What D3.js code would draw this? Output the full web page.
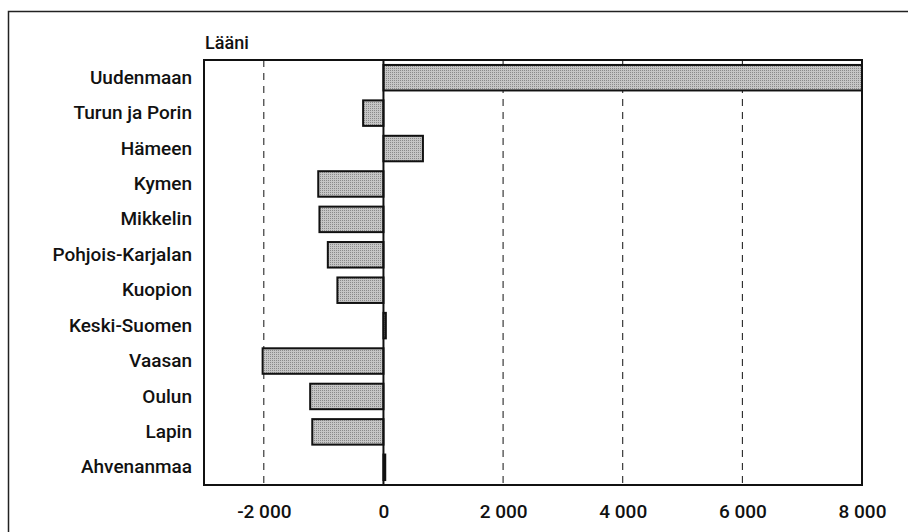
<!DOCTYPE html>
<html>
<head>
<meta charset="utf-8">
<script src="https://cdn.jsdelivr.net/npm/d3@7"></script>
<style>
  body { margin: 0; background: #fff; }
  text { font-family: Roboto, "Liberation Sans", sans-serif; font-weight: 500; fill: #111; }
</style>
</head>
<body>
<div id="chart"></div>
<script>
var provinces = ["Uudenmaan", "Turun ja Porin", "Hämeen", "Kymen", "Mikkelin",
  "Pohjois-Karjalan", "Kuopion", "Keski-Suomen", "Vaasan", "Oulun", "Lapin", "Ahvenanmaa"];
var values = [8000, -340, 660, -1090, -1070, -930, -770, 40, -2020, -1225, -1190, 30];
var ticks = [-2000, 0, 2000, 4000, 6000, 8000];
var gridTicks = [-2000, 2000, 4000, 6000];

var width = 908, height = 532;
var margin = { top: 60, right: 46, bottom: 47, left: 204 };

var svg = d3.select("#chart").append("svg")
    .attr("width", width)
    .attr("height", height);

// stippled grey fill like the printed original
var pat = svg.append("defs").append("pattern")
    .attr("id", "dots")
    .attr("width", 2).attr("height", 2)
    .attr("patternUnits", "userSpaceOnUse");
pat.append("rect").attr("width", 2).attr("height", 2).attr("fill", "#c6c6c6");
pat.append("rect").attr("width", 1).attr("height", 1).attr("fill", "#8a8a8a");

// outer frame (only top and left are inside the picture)
svg.append("path")
    .attr("d", "M8.5," + height + "V11.5H" + width)
    .attr("fill", "none")
    .attr("stroke", "#222")
    .attr("stroke-width", 1.5);

var x = d3.scaleLinear()
    .domain([-3000, 8000])
    .range([margin.left, width - margin.right]);

var y = d3.scaleBand()
    .domain(provinces)
    .range([margin.top, height - margin.bottom])
    .paddingInner(0.28)
    .paddingOuter(0.14);

var plotBottom = height - margin.bottom;

// dashed grid
svg.append("g").selectAll("line")
  .data(gridTicks)
  .enter().append("line")
    .attr("x1", function(d) { return x(d); })
    .attr("x2", function(d) { return x(d); })
    .attr("y1", margin.top)
    .attr("y2", plotBottom)
    .attr("stroke", "#111")
    .attr("stroke-width", 1)
    .attr("stroke-dasharray", "7,6");

// bars
svg.append("g").selectAll("rect")
  .data(values)
  .enter().append("rect")
    .attr("x", function(d) { return x(Math.min(0, d)); })
    .attr("y", function(d, i) { return y(provinces[i]); })
    .attr("width", function(d) { return Math.abs(x(d) - x(0)); })
    .attr("height", y.bandwidth())
    .attr("fill", "url(#dots)")
    .attr("stroke", "#111")
    .attr("stroke-width", 2);

// zero line
svg.append("line")
    .attr("x1", x(0)).attr("x2", x(0))
    .attr("y1", margin.top).attr("y2", plotBottom)
    .attr("stroke", "#111")
    .attr("stroke-width", 2);

// plot frame
svg.append("rect")
    .attr("x", margin.left)
    .attr("y", margin.top)
    .attr("width", x(8000) - margin.left)
    .attr("height", plotBottom - margin.top)
    .attr("fill", "none")
    .attr("stroke", "#111")
    .attr("stroke-width", 2);

// category labels
var yAxis = svg.append("g")
    .attr("transform", "translate(" + (margin.left - 12) + ",0)")
    .call(d3.axisLeft(y).tickSize(0).tickPadding(0));
yAxis.select(".domain").remove();
yAxis.selectAll("text")
    .attr("font-size", 19);

// x tick labels
var fmt = function(d) { return d3.format(",")(d).replace(/,/g, " ").replace("−", "-"); };
var xAxis = svg.append("g")
    .attr("transform", "translate(0," + (plotBottom + 16) + ")")
    .call(d3.axisBottom(x).tickValues(ticks).tickSize(0).tickFormat(fmt));
xAxis.select(".domain").remove();
xAxis.selectAll("text")
    .attr("font-size", 19);

// axis title
svg.append("text")
    .attr("x", margin.left + 1)
    .attr("y", 49)
    .attr("font-size", 18)
    .text("Lääni");
</script>
</body>
</html>
